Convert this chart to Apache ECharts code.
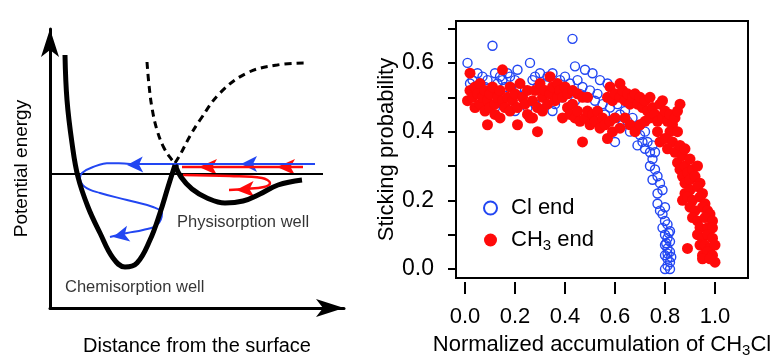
<!DOCTYPE html>
<html>
<head>
<meta charset="utf-8">
<script src="https://cdn.jsdelivr.net/npm/echarts@6/dist/echarts.min.js"></script>
<style>
  html, body { margin: 0; padding: 0; background: #fff; }
  #chart { width: 778px; height: 356px; }
</style>
</head>
<body>
<div id="chart"></div>
<script>
// ---- schematic (left panel), in diagram units ----
var chemWell = [[15,253],[17,208],[22,165],[28,131],[38,101],[50,75],[63,50],[75,41],[87,45],[100,68],[110,95],[118,121],[125,143]];
var physWell = [[125,143],[131,131],[142,119],[157,110],[175,105],[193,107],[210,114],[228,123],[252,128]];
var repulsiveCurve = [[97,246],[99,223],[102,200],[107,178],[114,160],[122,148],[128,141]];
var attractiveCurve = [[125,145],[130,153],[140,172],[150,188],[170,215],[197,235],[227,243],[255,245]];
var zeroLine = [[0,134],[273,134]];
var blueStraight = [[265,144],[80,144]];
var blueCurve = [[80,144],[60,145],[43,141],[32,135],[30,130],[35,121],[50,115],[77,108],[103,101],[112,95],[107,83],[93,78],[77,75],[60,71]];
var redStraight = [[253,141],[132,141]];
var redCurve = [[133,133],[180,132],[212,130],[220,125],[214,121],[195,119],[179,118]];
// arrowheads: [x, y, rotation]
var blueArrows = [[77,143,92],[191,144,90],[63,71,102]];
var redArrows = [[149,141,90],[227,141,90],[186,118,93]];
var wellLabels = [[15,21,'Chemisorption well'],[127,86,'Physisorption well']];

// ---- scatter (right panel) ----
var clEnd = [
  [0.01,0.60],[0.02,0.54],[0.03,0.55],[0.04,0.52],[0.05,0.57],[0.06,0.54],[0.07,0.56],[0.08,0.53],[0.09,0.55],[0.11,0.65],
  [0.10,0.50],[0.12,0.57],[0.13,0.54],[0.14,0.56],[0.15,0.55],[0.16,0.53],[0.17,0.57],[0.18,0.56],[0.19,0.51],[0.20,0.55],
  [0.21,0.58],[0.22,0.53],[0.16,0.48],[0.23,0.50],[0.24,0.52],[0.26,0.60],[0.25,0.47],[0.27,0.55],[0.28,0.56],[0.29,0.53],
  [0.30,0.57],[0.31,0.49],[0.32,0.54],[0.33,0.56],[0.34,0.51],[0.35,0.57],[0.36,0.48],[0.37,0.53],[0.38,0.55],[0.39,0.50],
  [0.40,0.56],[0.41,0.52],[0.42,0.54],[0.43,0.67],[0.44,0.59],[0.44,0.49],[0.45,0.55],[0.46,0.51],[0.47,0.53],[0.48,0.58],
  [0.49,0.50],[0.50,0.52],[0.51,0.57],[0.52,0.49],[0.53,0.51],[0.54,0.55],[0.55,0.48],[0.57,0.54],[0.56,0.45],[0.58,0.47],
  [0.59,0.50],[0.60,0.37],[0.60,0.44],[0.61,0.48],[0.62,0.45],[0.63,0.42],[0.64,0.46],[0.65,0.43],[0.66,0.40],[0.67,0.44],
  [0.68,0.41],[0.69,0.36],[0.70,0.39],[0.70,0.42],[0.71,0.37],[0.72,0.40],[0.72,0.35],[0.73,0.37],[0.74,0.34],[0.75,0.32],
  [0.74,0.30],[0.75,0.36],[0.76,0.29],[0.76,0.34],[0.77,0.27],[0.75,0.26],[0.78,0.25],[0.77,0.22],[0.79,0.23],[0.77,0.19],
  [0.78,0.17],[0.79,0.16],[0.80,0.18],[0.80,0.14],[0.81,0.13],[0.79,0.12],[0.82,0.11],[0.80,0.10],[0.81,0.09],[0.82,0.08],
  [0.80,0.07],[0.81,0.06],[0.82,0.05],[0.80,0.04],[0.81,0.03],[0.82,0.02],[0.81,0.01],[0.80,0.00],[0.82,0.00],[0.81,0.045],
  [0.805,0.075],[0.815,0.105],[0.825,0.035],[0.06,0.49],[0.12,0.47],[0.20,0.46],[0.28,0.48],[0.35,0.46],[0.42,0.47]
];
var ch3End = [
  [0.01,0.49],[0.02,0.57],[0.02,0.52],[0.03,0.50],[0.04,0.47],[0.04,0.53],[0.05,0.51],[0.06,0.48],[0.06,0.54],[0.07,0.50],
  [0.08,0.46],[0.08,0.52],[0.09,0.42],[0.09,0.49],[0.10,0.51],[0.10,0.47],[0.11,0.53],[0.12,0.48],[0.12,0.45],[0.13,0.50],
  [0.14,0.44],[0.14,0.52],[0.15,0.58],[0.15,0.49],[0.16,0.47],[0.17,0.50],[0.18,0.53],[0.18,0.46],[0.19,0.49],[0.20,0.51],
  [0.21,0.42],[0.21,0.47],[0.22,0.54],[0.23,0.50],[0.24,0.48],[0.25,0.45],[0.25,0.52],[0.26,0.44],[0.27,0.49],[0.27,0.44],
  [0.28,0.52],[0.29,0.40],[0.29,0.47],[0.30,0.54],[0.31,0.50],[0.31,0.46],[0.32,0.52],[0.33,0.48],[0.34,0.56],[0.34,0.51],
  [0.35,0.53],[0.36,0.49],[0.37,0.54],[0.37,0.50],[0.38,0.52],[0.39,0.44],[0.39,0.50],[0.40,0.53],[0.41,0.47],[0.41,0.51],
  [0.42,0.45],[0.43,0.52],[0.43,0.48],[0.44,0.44],[0.45,0.51],[0.45,0.46],[0.46,0.43],[0.47,0.50],[0.47,0.37],[0.48,0.44],
  [0.49,0.50],[0.49,0.46],[0.50,0.42],[0.51,0.45],[0.52,0.43],[0.53,0.46],[0.54,0.41],[0.55,0.44],[0.56,0.42],[0.57,0.38],
  [0.58,0.43],[0.59,0.40],[0.60,0.44],[0.57,0.50],[0.58,0.53],[0.59,0.49],[0.60,0.51],[0.62,0.54],[0.62,0.50],[0.63,0.52],
  [0.64,0.49],[0.65,0.51],[0.66,0.48],[0.67,0.50],[0.68,0.51],[0.69,0.48],[0.70,0.50],[0.71,0.47],[0.72,0.49],[0.73,0.46],
  [0.74,0.50],[0.62,0.41],[0.64,0.44],[0.66,0.42],[0.68,0.40],[0.70,0.42],[0.72,0.43],[0.74,0.44],[0.75,0.47],[0.76,0.45],
  [0.77,0.43],[0.78,0.48],[0.79,0.49],[0.77,0.40],[0.79,0.44],[0.80,0.46],[0.81,0.43],[0.82,0.45],[0.83,0.42],[0.82,0.40],
  [0.78,0.37],[0.80,0.38],[0.84,0.44],[0.85,0.46],[0.86,0.48],[0.83,0.37],[0.85,0.40],[0.81,0.35],[0.84,0.34],[0.86,0.36],
  [0.85,0.31],[0.87,0.33],[0.88,0.35],[0.86,0.29],[0.88,0.30],[0.90,0.32],[0.87,0.27],[0.89,0.28],[0.91,0.29],[0.93,0.30],
  [0.88,0.25],[0.90,0.26],[0.92,0.27],[0.94,0.25],[0.88,0.22],[0.90,0.23],[0.93,0.24],[0.95,0.22],[0.87,0.20],[0.89,0.21],
  [0.91,0.20],[0.94,0.21],[0.96,0.19],[0.90,0.18],[0.92,0.17],[0.95,0.18],[0.97,0.17],[0.98,0.16],[0.91,0.15],[0.93,0.14],
  [0.96,0.15],[0.99,0.14],[0.94,0.12],[0.97,0.12],[0.99,0.12],[0.93,0.10],[0.95,0.09],[0.97,0.10],[0.99,0.09],[0.94,0.07],
  [0.96,0.07],[0.98,0.06],[1.00,0.07],[0.89,0.06],[0.95,0.04],[0.97,0.05],[0.99,0.04],[0.95,0.03],[1.00,0.02],[0.98,0.03]
];
var xTicks = [0, 0.2, 0.4, 0.6, 0.8, 1.0];
var yTicks = [0, 0.1, 0.2, 0.3, 0.4, 0.5, 0.6, 0.7];
var yLabels = [0, 0.2, 0.4, 0.6];

var FONT = 'Liberation Sans, Arial, Helvetica, sans-serif';
var BLUE = '#2246f2';
var RED = '#ff0a0a';

function curve(data, color, width, dashed) {
  return {
    type: 'line', xAxisIndex: 0, yAxisIndex: 0, data: data,
    smooth: 0.4, showSymbol: false, symbol: 'none', silent: true,
    lineStyle: { color: color, width: width, type: dashed ? [7, 5] : 'solid' }
  };
}
function straight(data, color, width) {
  var s = curve(data, color, width, false);
  s.smooth = false;
  return s;
}
function arrows(data, color, size) {
  return {
    type: 'scatter', xAxisIndex: 0, yAxisIndex: 0, data: data, silent: true,
    symbol: 'arrow', symbolSize: size,
    symbolRotate: function (v) { return v[2]; },
    itemStyle: { color: color, opacity: 1 }
  };
}

var chart = echarts.init(document.getElementById('chart'), null, { renderer: 'canvas' });
chart.setOption({
  animation: false,
  textStyle: { fontFamily: FONT },
  grid: [
    { left: 50, top: 29, width: 294, height: 279, outerBoundsMode: 'none', containLabel: false },
    { left: 456, top: 21, right: 30, bottom: 78, outerBoundsMode: 'none', containLabel: false,
      show: true, borderColor: '#000', borderWidth: 2, backgroundColor: 'transparent' }
  ],
  legend: {
    left: 478, top: 192, orient: 'vertical', itemGap: 10,
    itemWidth: 13, itemHeight: 13,
    textStyle: {
      fontSize: 22, color: '#000', fontFamily: FONT,
      rich: {
        g: { width: 9 },
        a: { fontSize: 22, color: '#000', fontFamily: FONT },
        s: { fontSize: 15, color: '#000', fontFamily: FONT, verticalAlign: 'bottom', padding: [12, 0, 0, 0] }
      }
    },
    formatter: function (name) {
      return name === 'CH3 end' ? '{g|}{a|CH}{s|3}{a| end}' : '{g|}{a|' + name + '}';
    },
    data: ['Cl end', 'CH3 end']
  },
  xAxis: [
    {
      gridIndex: 0, type: 'value', min: 0, max: 294,
      axisLine: { show: true, symbol: ['none', 'arrow'], symbolSize: [13.5, 28], lineStyle: { color: '#000', width: 3 } },
      axisTick: { show: false }, axisLabel: { show: false }, splitLine: { show: false },
      name: 'Distance from the surface', nameLocation: 'middle', nameGap: 28,
      nameTextStyle: { fontSize: 20, color: '#000', fontFamily: FONT }
    },
    {
      gridIndex: 1, type: 'value', min: -0.036, max: 1.132, offset: 4, position: 'bottom',
      axisLine: { show: false, onZero: false },
      axisTick: { show: true, customValues: xTicks, length: 12, lineStyle: { color: '#000', width: 2 } },
      axisLabel: { show: true, customValues: xTicks, margin: 24, fontSize: 22, color: '#000', fontFamily: FONT,
        formatter: function (v) { return v.toFixed(1); } },
      splitLine: { show: false },
      name: '{a|Normalized accumulation of CH}{s|3}{a|Cl}', nameLocation: 'middle', nameGap: 49,
      nameTextStyle: {
        fontSize: 22, color: '#000', fontFamily: FONT,
        rich: {
          a: { fontSize: 22, color: '#000', fontFamily: FONT },
          s: { fontSize: 15, color: '#000', fontFamily: FONT, padding: [12, 0, 0, 0] }
        }
      }
    }
  ],
  yAxis: [
    {
      gridIndex: 0, type: 'value', min: 0, max: 279,
      axisLine: { show: true, symbol: ['none', 'arrow'], symbolSize: [13.5, 28], lineStyle: { color: '#000', width: 3 } },
      axisTick: { show: false }, axisLabel: { show: false }, splitLine: { show: false },
      name: 'Potential energy', nameLocation: 'middle', nameGap: 19,
      nameTextStyle: { fontSize: 19, color: '#000', fontFamily: FONT }
    },
    {
      gridIndex: 1, type: 'value', min: -0.026, max: 0.722, position: 'left',
      axisLine: { show: false, onZero: false },
      axisTick: { show: true, customValues: yTicks, length: 8, lineStyle: { color: '#000', width: 2 } },
      axisLabel: { show: true, customValues: yLabels, margin: 22, fontSize: 23, color: '#000', fontFamily: FONT,
        formatter: function (v) { return v.toFixed(1); } },
      splitLine: { show: false },
      name: 'Sticking probability', nameLocation: 'middle', nameGap: 58,
      nameTextStyle: { fontSize: 22, color: '#000', fontFamily: FONT }
    }
  ],
  series: [
    straight(zeroLine, '#000', 2),
    curve(repulsiveCurve, '#000', 3, true),
    curve(attractiveCurve, '#000', 3, true),
    straight(blueStraight, BLUE, 2),
    curve(blueCurve, BLUE, 2, false),
    arrows(blueArrows, BLUE, [12, 16]),
    straight(redStraight, RED, 2.5),
    curve(redCurve, RED, 2.5, false),
    arrows(redArrows, RED, [12, 18]),
    curve(chemWell, '#000', 5, false),
    curve(physWell, '#000', 5, false),
    {
      type: 'scatter', xAxisIndex: 0, yAxisIndex: 0, data: wellLabels, silent: true,
      symbolSize: 0,
      label: { show: true, position: 'right', distance: 0, fontSize: 16.5, color: '#000', fontFamily: FONT,
        formatter: function (p) { return p.value[2]; } }
    },
    {
      name: 'Cl end', type: 'scatter', xAxisIndex: 1, yAxisIndex: 1, data: clEnd,
      symbol: 'circle', symbolSize: 9,
      itemStyle: { color: 'rgba(255,255,255,0)', borderColor: BLUE, borderWidth: 1.4, opacity: 1 }
    },
    {
      name: 'CH3 end', type: 'scatter', xAxisIndex: 1, yAxisIndex: 1, data: ch3End,
      symbol: 'circle', symbolSize: 11,
      itemStyle: { color: RED, opacity: 1 }
    }
  ]
});
</script>
</body>
</html>
